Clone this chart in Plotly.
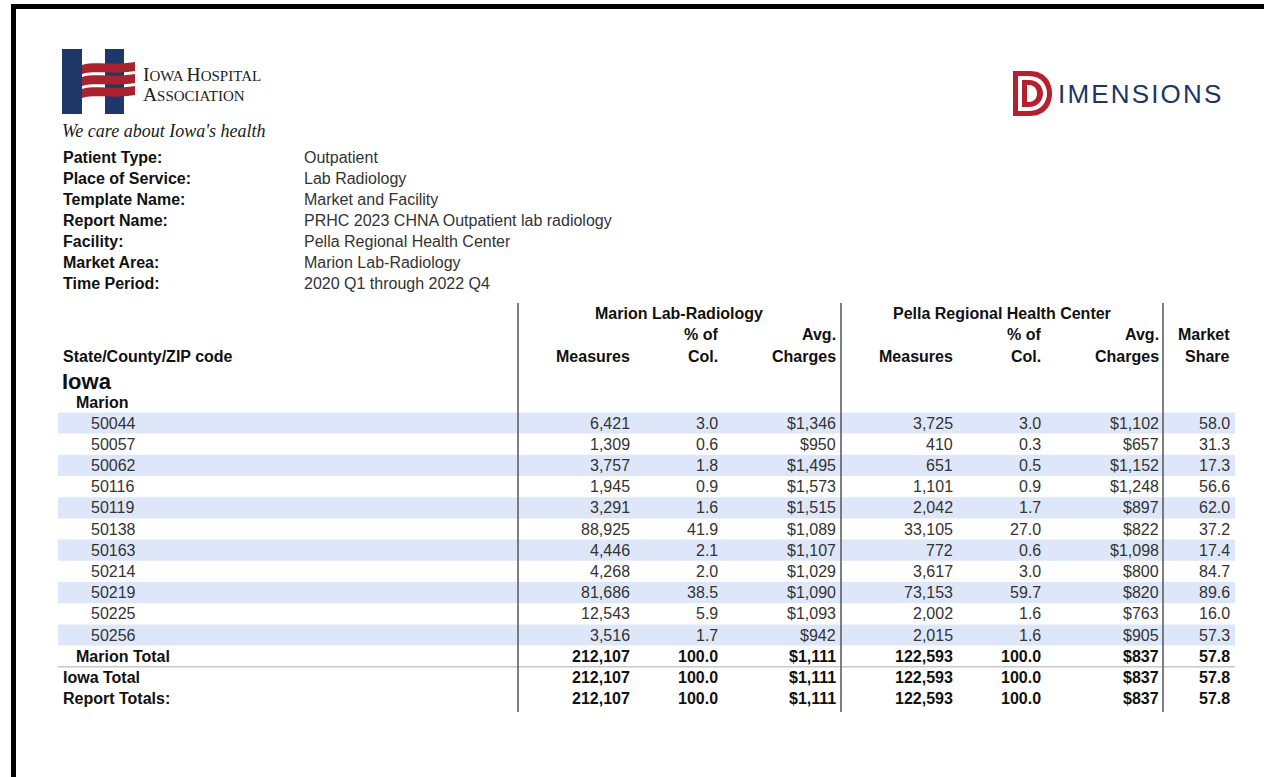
import plotly.graph_objects as go

# report header block
info_labels = ["Patient Type:", "Place of Service:", "Template Name:", "Report Name:",
               "Facility:", "Market Area:", "Time Period:"]
info_values = ["Outpatient", "Lab Radiology", "Market and Facility",
               "PRHC 2023 CHNA Outpatient lab radiology", "Pella Regional Health Center",
               "Marion Lab-Radiology", "2020 Q1 through 2022 Q4"]

# table data (Marion county ZIP codes)
zip_codes = ["50044", "50057", "50062", "50116", "50119", "50138", "50163",
             "50214", "50219", "50225", "50256"]
marion_measures = [6421, 1309, 3757, 1945, 3291, 88925, 4446, 4268, 81686, 12543, 3516]
marion_pct = [3.0, 0.6, 1.8, 0.9, 1.6, 41.9, 2.1, 2.0, 38.5, 5.9, 1.7]
marion_avg = [1346, 950, 1495, 1573, 1515, 1089, 1107, 1029, 1090, 1093, 942]
pella_measures = [3725, 410, 651, 1101, 2042, 33105, 772, 3617, 73153, 2002, 2015]
pella_pct = [3.0, 0.3, 0.5, 0.9, 1.7, 27.0, 0.6, 3.0, 59.7, 1.6, 1.6]
pella_avg = [1102, 657, 1152, 1248, 897, 822, 1098, 800, 820, 763, 905]
market_share = [58.0, 31.3, 17.3, 56.6, 62.0, 37.2, 17.4, 84.7, 89.6, 16.0, 57.3]

total_labels = ["Marion Total", "Iowa Total", "Report Totals:"]
total_values = [212107, 100.0, 1111, 122593, 100.0, 837, 57.8]

W, H = 1264, 777
FONT = "Liberation Sans"
DARK = "#111111"
GREY = "#333333"
BAND = "#dde7f9"

col_right = [631, 719, 837, 954, 1042, 1160, 1231]
row_y0, row_h = 423, 21.2

fig = go.Figure()
fig.add_trace(go.Scatter(x=[], y=[], hoverinfo="skip", showlegend=False))


def txt(x, y, s, size=16, bold=False, anchor="left", color=GREY, family=FONT):
    fig.add_annotation(x=x, y=y, xref="x", yref="y", showarrow=False,
                       text="<b>%s</b>" % s if bold else s,
                       xanchor=anchor, yanchor="middle", borderpad=0,
                       font=dict(family=family, size=size, color=color))


def fmt_row(vals):
    return ["{:,}".format(vals[0]), "%.1f" % vals[1], "${:,}".format(vals[2]),
            "{:,}".format(vals[3]), "%.1f" % vals[4], "${:,}".format(vals[5]),
            "%.1f" % vals[6]]


# page frame
fig.add_shape(type="rect", x0=11, x1=W, y0=4, y1=9, fillcolor="black", line_width=0)
fig.add_shape(type="rect", x0=11, x1=16, y0=4, y1=H, fillcolor="black", line_width=0)

# IHA logo
fig.add_shape(type="rect", x0=62, x1=82, y0=49, y1=114, fillcolor="#1c3768", line_width=0)
fig.add_shape(type="rect", x0=105, x1=124, y0=49, y1=114, fillcolor="#1c3768", line_width=0)
for y in [63, 75, 87]:
    fig.add_shape(type="path", fillcolor="#a8232f", line_width=0,
                  path="M 82,{a} C 96,{b} 112,{c} 135,{d} L 135,{e} C 112,{f} 96,{g} 82,{h} Z".format(
                      a=y + 2, b=y - 2, c=y + 3, d=y - 1, e=y + 8, f=y + 12, g=y + 7, h=y + 11))
big = "<span style='font-size:19.5px'>%s</span>"
fig.add_annotation(x=142, y=84, xref="x", yref="y", showarrow=False, xanchor="left",
                   yanchor="middle", borderpad=0, align="left",
                   text=big % "I" + "OWA " + big % "H" + "OSPITAL<br>" + big % "A" + "SSOCIATION",
                   font=dict(family="Liberation Serif", size=15, color="#222222"))
fig.add_annotation(x=61, y=131, xref="x", yref="y", showarrow=False, xanchor="left",
                   yanchor="middle", borderpad=0, text="<i>We care about Iowa's health</i>",
                   font=dict(family="Liberation Serif", size=18, color="#1a1a1a"))

# Dimensions logo
fig.add_shape(type="path", fillcolor="#b5202e", line_width=0,
              path="M 1013,71 L 1030,71 C 1045,71 1052,82 1052,93.5 C 1052,105 1045,116 1030,116 L 1013,116 Z")
fig.add_shape(type="path", fillcolor="white", line_width=0,
              path="M 1018,76 L 1029,76 C 1041,76 1047,85 1047,93.5 C 1047,102 1041,111 1029,111 L 1018,111 Z")
fig.add_shape(type="path", fillcolor="#b5202e", line_width=0,
              path="M 1022,80 L 1029,80 C 1038,80 1043,87 1043,93.5 C 1043,100 1038,107 1029,107 L 1022,107 Z")
fig.add_shape(type="path", fillcolor="white", line_width=0,
              path="M 1027,85 L 1029,85 C 1034,85 1037,89 1037,93.5 C 1037,98 1034,102 1029,102 L 1027,102 Z")
fig.add_annotation(x=1057, y=94, xref="x", yref="y", showarrow=False, xanchor="left",
                   yanchor="middle", borderpad=0,
                   text="\u200a".join("IMENSIONS"),
                   font=dict(family=FONT, size=26, color="#1d3566"))

# report header block
for i, (lab, val) in enumerate(zip(info_labels, info_values)):
    y = 157 + 21.1 * i
    txt(62, y, lab, bold=True, color=DARK)
    txt(303, y, val, color=GREY)

# row bands
for i in range(0, len(zip_codes), 2):
    yc = row_y0 + row_h * i
    fig.add_shape(type="rect", x0=58, x1=1235, y0=yc - row_h / 2, y1=yc + row_h / 2,
                  fillcolor=BAND, line_width=0, layer="below")

# column headers
txt(679, 313, "Marion Lab-Radiology", bold=True, anchor="center", color=DARK)
txt(1002, 313, "Pella Regional Health Center", bold=True, anchor="center", color=DARK)
top_hdr = ["", "% of", "Avg.", "", "% of", "Avg.", "Market"]
bot_hdr = ["Measures", "Col.", "Charges", "Measures", "Col.", "Charges", "Share"]
for xr, t, b in zip(col_right, top_hdr, bot_hdr):
    if t:
        txt(xr, 334, t, bold=True, anchor="right", color=DARK)
    txt(xr, 356, b, bold=True, anchor="right", color=DARK)
txt(62, 356, "State/County/ZIP code", bold=True, color=DARK)
txt(61, 381, "Iowa", size=22, bold=True, color=DARK)
txt(75, 402, "Marion", bold=True, color=DARK)

# ZIP rows
for i, z in enumerate(zip_codes):
    y = row_y0 + row_h * i
    txt(90, y, z)
    vals = [marion_measures[i], marion_pct[i], marion_avg[i], pella_measures[i],
            pella_pct[i], pella_avg[i], market_share[i]]
    for xr, s in zip(col_right, fmt_row(vals)):
        txt(xr, y, s, anchor="right")

# totals
for j, lab in enumerate(total_labels):
    y = row_y0 + row_h * (len(zip_codes) + j)
    txt(75 if j == 0 else 62, y, lab, bold=True, color=DARK)
    for xr, s in zip(col_right, fmt_row(total_values)):
        txt(xr, y, s, bold=True, anchor="right", color=DARK)

# rules
sep_y = row_y0 + row_h * (len(zip_codes) + 0.5)
fig.add_shape(type="line", x0=58, x1=1235, y0=sep_y, y1=sep_y, line=dict(color="#c8c8c8", width=1.5))
for xv in [518, 841, 1163]:
    fig.add_shape(type="line", x0=xv, x1=xv, y0=303, y1=712, line=dict(color="#555555", width=1.5))

fig.update_layout(width=W, height=H, margin=dict(l=0, r=0, t=0, b=0),
                  paper_bgcolor="white", plot_bgcolor="white", showlegend=False,
                  xaxis=dict(range=[0, W], visible=False, fixedrange=True),
                  yaxis=dict(range=[H, 0], visible=False, fixedrange=True))

# drop the default page margin so the figure sits at the window's top-left corner
fig.write_html("out.html", config={"displayModeBar": False},
               post_script="document.body.style.margin='0px';document.body.style.overflow='hidden';")
